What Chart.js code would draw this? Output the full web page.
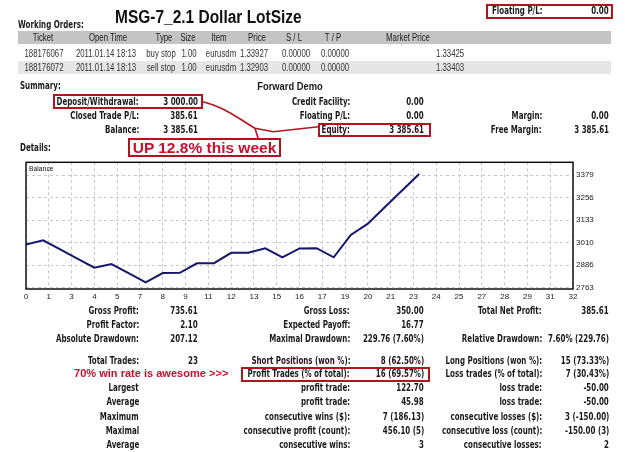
<!DOCTYPE html>
<html><head><meta charset="utf-8">
<script src="https://cdn.jsdelivr.net/npm/chart.js@4/dist/chart.umd.min.js"></script>
<style>
html,body{margin:0;padding:0;background:#fff;}
#page{position:relative;width:625px;height:452px;overflow:hidden;font-family:"Liberation Sans",Arial,sans-serif;color:#1a1a1a;background:#fff;}
.t{position:absolute;white-space:nowrap;}
.b{position:absolute;box-sizing:border-box;}
#cv{position:absolute;left:0;top:150px;}
svg{position:absolute;left:0;top:0;}
</style></head><body><div id="page">
<canvas id="cv" width="625" height="160"></canvas>
<svg width="625" height="452"><path d="M202.7,101.7 C222,106 238,118 255,128.3 L258.3,139 M255,128.3 L273.3,131.7 L318.3,126.7" fill="none" stroke="#b3121f" stroke-width="1.6"/></svg>
</div>
<script>
// ---- chart data ----
const trades = [0,1,2,3,4,5,6,7,8,9,10,11,12,13,14,15,16,17,18,19,20,21,22,23];
const balance = [3000.00,3022.64,2972.64,2922.64,2872.64,2892.88,2842.88,2792.88,2843.50,2844.50,2896.50,2897.50,2954.00,2955.00,2979.01,2929.01,2978.50,2979.51,2929.51,3052.21,3114.00,3205.00,3296.00,3385.61];
const xTickLabels = [0,1,3,4,5,7,8,9,11,12,13,15,16,17,19,20,21,23,24,25,27,28,29,31,32];
const yTickValues = [2763,2886,3010,3133,3256,3379];
const seriesName = 'Balance';

// ---- page text ----
const W = 625, SX = 0.71;
const DV = '"DejaVu Sans", Verdana, sans-serif';
const page = document.getElementById('page');
function put(x, y, s, o = {}) {
  const e = document.createElement('div');
  e.className = 't';
  e.textContent = s;
  const size = o.size || 10;
  e.style.fontSize = size + 'px';
  e.style.lineHeight = (size + 4) + 'px';
  e.style.top = (y - (size + 4) / 2) + 'px';
  e.style.fontWeight = o.bold ? 'bold' : 'normal';
  if (o.fam) e.style.fontFamily = o.fam;
  if (o.color) e.style.color = o.color;
  const sx = o.sx ?? SX;
  const al = o.align || 'r';
  if (al === 'r') { e.style.right = (W - x) + 'px'; e.style.transformOrigin = 'right center'; e.style.transform = 'scaleX(' + sx + ')'; }
  else if (al === 'l') { e.style.left = x + 'px'; e.style.transformOrigin = 'left center'; e.style.transform = 'scaleX(' + sx + ')'; }
  else { e.style.left = x + 'px'; e.style.transform = 'translateX(-50%) scaleX(' + sx + ')'; }
  page.appendChild(e);
}
function lab(x, y, s, o = {}) { put(x, y, s, Object.assign({bold:true, fam:DV, color:'#1a1a1a'}, o)); }
function box(x, y, w, h, o = {}) {
  const e = document.createElement('div');
  e.className = 'b';
  e.style.left = x + 'px'; e.style.top = y + 'px'; e.style.width = w + 'px'; e.style.height = h + 'px';
  if (o.bg) e.style.background = o.bg;
  if (o.border) e.style.border = o.border;
  page.insertBefore(e, page.firstChild);
}
const RED = '#b3121f', TXTRED = '#c8102e';

// header
put(115, 16.5, 'MSG-7_2.1  Dollar LotSize', {align:'l', bold:true, size:18, sx:0.86, color:'#111'});
box(486, 3.5, 127, 15, {border:'2px solid ' + RED});
lab(492, 11, 'Floating P/L:', {align:'l'});
lab(609, 11, '0.00');
lab(18, 25, 'Working Orders:', {align:'l'});

// orders table
const colSep = [68,148,176,201,238,276,314,352,465];
box(18, 31, 593, 13, {bg:'#c4c4c4'});
box(18, 61, 593, 13, {bg:'#e6e6e6'});
colSep.forEach(x => { box(x - 1, 31, 2, 13, {bg:'#fff'}); box(x - 1, 61, 2, 13, {bg:'#fff'}); });
const hdrCols = ['Ticket','Open Time','Type','Size','Item','Price','S / L','T / P','Market Price'];
const hdrX = [43,108,164,188,219,257,294,333,408];
hdrCols.forEach((s,i) => put(hdrX[i], 37.5, s, {align:'c', color:'#222', sx:0.78}));
const rowX = [43.5,106,160.5,189,221,254,296,335];
const row1 = ['188176067','2011.01.14 18:13','buy stop','1.00','eurusdm','1.33927','0.00000','0.00000'];
const row2 = ['188176072','2011.01.14 18:13','sell stop','1.00','eurusdm','1.32903','0.00000','0.00000'];
row1.forEach((s,i) => put(rowX[i], 54, s, {align:'c', color:'#333', sx:0.78}));
row2.forEach((s,i) => put(rowX[i], 67.5, s, {align:'c', color:'#333', sx:0.78}));
put(464, 54, '1.33425', {color:'#333', sx:0.78});
put(464, 67.5, '1.33403', {color:'#333', sx:0.78});

// summary
lab(20, 86, 'Summary:', {align:'l'});
put(290, 86, 'Forward Demo', {align:'c', bold:true, size:11, sx:0.85});
box(53.3, 94.3, 149.4, 14.7, {border:'2px solid ' + RED});
box(318.3, 122.7, 112.7, 14.3, {border:'2px solid ' + RED});
const sumRows = [
  [101.7, 'Deposit/Withdrawal:', '3 000.00', 'Credit Facility:', '0.00', '', ''],
  [116, 'Closed Trade P/L:', '385.61', 'Floating P/L:', '0.00', 'Margin:', '0.00'],
  [129.7, 'Balance:', '3 385.61', 'Equity:', '3 385.61', 'Free Margin:', '3 385.61']
];
sumRows.forEach(r => {
  lab(139, r[0], r[1]); lab(198, r[0], r[2]);
  lab(350, r[0], r[3]); lab(424, r[0], r[4]);
  if (r[5]) { lab(542, r[0], r[5]); lab(609, r[0], r[6]); }
});
box(128.3, 138.3, 152.4, 18.7, {border:'2px solid ' + RED});
put(204.5, 147.7, 'UP 12.8% this week', {align:'c', bold:true, size:15.5, sx:1, color:TXTRED});
lab(20, 148.3, 'Details:', {align:'l'});
put(29, 169.3, seriesName, {align:'l', size:8, sx:0.85, color:'#111'});

// details
box(241, 366.7, 189, 15.3, {border:'2px solid ' + RED});
const detRows = [
  [311, 'Gross Profit:', '735.61', 'Gross Loss:', '350.00', 'Total Net Profit:', '385.61'],
  [325, 'Profit Factor:', '2.10', 'Expected Payoff:', '16.77', '', ''],
  [339.3, 'Absolute Drawdown:', '207.12', 'Maximal Drawdown:', '229.76 (7.60%)', 'Relative Drawdown:', '7.60% (229.76)'],
  [360.7, 'Total Trades:', '23', 'Short Positions (won %):', '8 (62.50%)', 'Long Positions (won %):', '15 (73.33%)'],
  [374, '', '', 'Profit Trades (% of total):', '16 (69.57%)', 'Loss trades (% of total):', '7 (30.43%)'],
  [388, 'Largest', '', 'profit trade:', '122.70', 'loss trade:', '-50.00'],
  [402, 'Average', '', 'profit trade:', '45.98', 'loss trade:', '-50.00'],
  [416.7, 'Maximum', '', 'consecutive wins ($):', '7 (186.13)', 'consecutive losses ($):', '3 (-150.00)'],
  [430.7, 'Maximal', '', 'consecutive profit (count):', '456.10 (5)', 'consecutive loss (count):', '-150.00 (3)'],
  [445, 'Average', '', 'consecutive wins:', '3', 'consecutive losses:', '2']
];
detRows.forEach(r => {
  if (r[1]) lab(139, r[0], r[1]);
  if (r[2]) lab(198, r[0], r[2]);
  lab(350, r[0], r[3]); lab(424, r[0], r[4]);
  if (r[5]) { lab(542, r[0], r[5]); lab(609, r[0], r[6]); }
});
put(74, 374, '70% win rate is awesome  >>>', {align:'l', bold:true, size:11.5, sx:0.96, color:TXTRED});

// ---- chart ----
const framePlugin = {
  id: 'frame',
  afterDraw(c) {
    const a = c.chartArea, ctx = c.ctx;
    ctx.save(); ctx.strokeStyle = '#111'; ctx.lineWidth = 1.5;
    ctx.strokeRect(a.left, a.top, a.right - a.left, a.bottom - a.top);
    ctx.restore();
  }
};
const FONT = {family:'"Liberation Sans", Arial, sans-serif', size:8};
new Chart(document.getElementById('cv'), {
  type: 'line',
  data: {
    datasets: [{
      label: seriesName,
      data: trades.map((t, i) => ({x: t, y: balance[i]})),
      borderColor: '#16166a', borderWidth: 2, pointRadius: 0, tension: 0, fill: false
    }]
  },
  options: {
    responsive: false, animation: false,
    layout: {padding: {left: 26, top: 12.3, right: 0, bottom: 0}},
    plugins: {legend: {display: false}, tooltip: {enabled: false}},
    scales: {
      x: {
        type: 'linear', min: 0, max: 32,
        afterBuildTicks: s => { s.ticks = xTickLabels.map((l, i) => ({value: i * 32 / (xTickLabels.length - 1)})); },
        afterFit: s => { s.height = 21; },
        grid: {color: '#c8c8c8', lineWidth: 1, drawTicks: false},
        border: {display: false, dash: [3, 3]},
        ticks: {padding: 3, font: FONT, color: '#222', maxRotation: 0, autoSkip: false,
                callback: (v, i) => String(xTickLabels[i])}
      },
      y: {
        position: 'right', min: 2756, max: 3450,
        afterBuildTicks: s => { s.ticks = yTickValues.map(v => ({value: v})); },
        afterFit: s => { s.width = 52; },
        grid: {color: '#c8c8c8', lineWidth: 1, drawTicks: false},
        border: {display: false, dash: [3, 3]},
        ticks: {padding: 3, font: FONT, color: '#222', autoSkip: false, callback: v => String(v)}
      }
    }
  },
  plugins: [framePlugin]
});
</script>
</body></html>
